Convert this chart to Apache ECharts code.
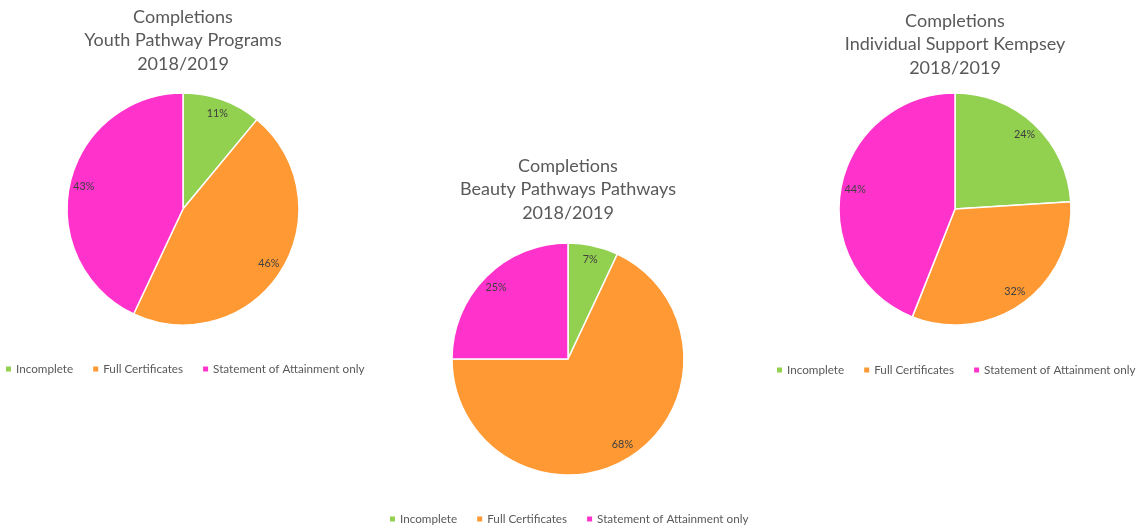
<!DOCTYPE html>
<html>
<head>
<meta charset="utf-8">
<title>Completions 2018/2019</title>
<script src="https://cdn.jsdelivr.net/npm/echarts@6/dist/echarts.min.js"></script>
<style>
  html, body { margin: 0; padding: 0; background: #ffffff; }
  #chart { width: 1145px; height: 529px; }
</style>
</head>
<body>
<div id="chart"></div>
<script>
// Completion outcome categories (shared by all three programs)
const categories = ['Incomplete', 'Full Certificates', 'Statement of Attainment only'];
const sliceColors = ['#92d050', '#ff9933', '#ff33cc'];

// Percentage of completions per program
const youthPathwayValues = [11, 46, 43];
const beautyPathwayValues = [7, 68, 25];
const individualSupportValues = [24, 32, 44];

// \u200C keeps the "ti" pair from turning into a ligature
const chartTitles = [
  'Comple\u200Ctions\nYouth Pathway Programs\n2018/2019',
  'Comple\u200Ctions\nBeauty Pathways Pathways\n2018/2019',
  'Comple\u200Ctions\nIndividual Support Kempsey\n2018/2019'
];

const toData = vals => vals.map((v, i) => ({ name: categories[i], value: v, itemStyle: { color: sliceColors[i] } }));
const toLabelData = vals => vals.map((v, i) => ({ name: categories[i], value: v }));

const pies = [
  { values: youthPathwayValues, center: [183, 209], titleTop: 5, legendLeft: 6, legendTop: 363 },
  { values: beautyPathwayValues, center: [568, 359], titleTop: 154, legendLeft: 390, legendTop: 513 },
  { values: individualSupportValues, center: [955, 209], titleTop: 9, legendLeft: 777, legendTop: 364 }
];
const R = 116;

const chart = echarts.init(document.getElementById('chart'), null, { renderer: 'canvas' });

const series = [];
// filled slices
pies.forEach(p => {
  series.push({
    type: 'pie',
    center: p.center,
    radius: [0, R],
    startAngle: 90,
    clockwise: true,
    avoidLabelOverlap: false,
    label: { show: false },
    labelLine: { show: false },
    emphasis: { scale: false },
    itemStyle: { borderColor: '#ffffff', borderWidth: 1.5 },
    data: toData(p.values)
  });
});
// percentage labels placed near the rim
pies.forEach(p => {
  series.push({
    type: 'pie',
    center: p.center,
    radius: [R * 0.70, R],
    startAngle: 90,
    clockwise: true,
    silent: true,
    legendHoverLink: false,
    avoidLabelOverlap: false,
    itemStyle: { color: 'rgba(0,0,0,0)', borderWidth: 0 },
    label: {
      show: true,
      position: 'inside',
      formatter: '{c}%',
      color: '#404040',
      fontFamily: 'Lato',
      fontSize: 10.8
    },
    labelLine: { show: false },
    emphasis: { disabled: true },
    data: toLabelData(p.values)
  });
});

chart.setOption({
  backgroundColor: '#ffffff',
  animation: false,
  title: pies.map((p, i) => ({
    text: chartTitles[i],
    left: p.center[0],
    top: p.titleTop,
    textAlign: 'center',
    padding: 0,
    textStyle: {
      fontFamily: 'Lato',
      fontSize: 18,
      fontWeight: 'normal',
      color: '#595959',
      lineHeight: 23.5
    }
  })),
  legend: pies.map(p => ({
    data: categories.map((c, i) => ({ name: c, itemStyle: { color: sliceColors[i], borderWidth: 0 } })),
    left: p.legendLeft,
    top: p.legendTop,
    orient: 'horizontal',
    icon: 'rect',
    itemWidth: 5,
    itemHeight: 5,
    itemGap: 20,
    padding: 0,
    selectedMode: false,
    textStyle: { fontFamily: 'Lato', fontSize: 11.7, color: '#595959', padding: [0, 0, 0, 0] }
  })),
  series: series
});
</script>
</body>
</html>
